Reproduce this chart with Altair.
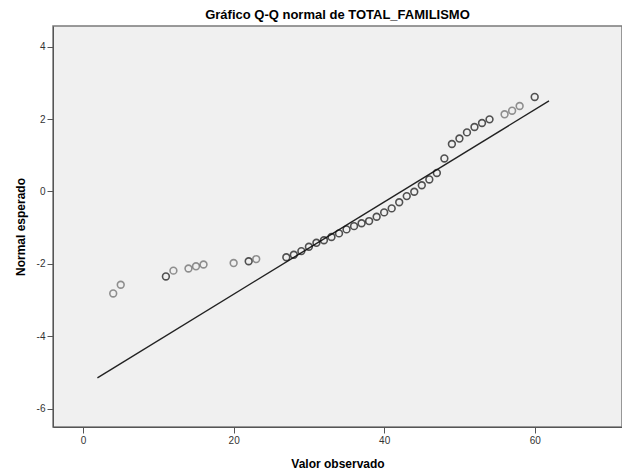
import altair as alt
import pandas as pd

# Observed values (TOTAL_FAMILISMO) and expected normal quantiles
obs = [4, 5, 11, 12, 14, 15, 16, 20, 22, 23, 27, 28, 29, 30, 31, 32, 33, 34, 35,
       36, 37, 38, 39, 40, 41, 42, 43, 44, 45, 46, 47, 48, 49, 50, 51, 52, 53,
       54, 56, 57, 58, 60]
expected = [-2.82, -2.58, -2.35, -2.19, -2.13, -2.07, -2.02, -1.98, -1.93, -1.87,
            -1.82, -1.75, -1.65, -1.53, -1.42, -1.35, -1.26, -1.16, -1.05, -0.96,
            -0.88, -0.82, -0.70, -0.58, -0.47, -0.30, -0.13, -0.01, 0.17, 0.33,
            0.51, 0.91, 1.31, 1.46, 1.63, 1.78, 1.89, 1.99, 2.13, 2.23, 2.36, 2.61]
# darker (overlapping) markers
weight = ["light", "light", "dark", "light", "light", "light", "light", "light",
          "dark", "light", "dark", "dark", "dark", "dark", "dark", "dark", "dark",
          "dark", "dark", "dark", "dark", "dark", "dark", "dark", "dark", "dark",
          "dark", "dark", "dark", "dark", "dark", "dark", "dark", "dark", "dark",
          "dark", "dark", "dark", "light", "light", "light", "dark"]

# reference line end points
line_x = [1.9, 61.9]
line_y = [-5.15, 2.50]

df = pd.DataFrame({"x": obs, "y": expected, "w": weight})
ldf = pd.DataFrame({"x": line_x, "y": line_y})

xs = alt.Scale(domain=[-4, 71.6], nice=False, zero=False)
ys = alt.Scale(domain=[-6.51, 4.57], nice=False, zero=False)

xaxis = alt.Axis(values=[0, 20, 40, 60], title="Valor observado", grid=False,
                 tickSize=6, labelFontSize=10, labelColor="#333333",
                 titleFontSize=12, titleFontWeight="bold", titleColor="#000000",
                 titlePadding=13, domainColor="#555555", tickColor="#555555",
                 labelFont="Liberation Sans", titleFont="Liberation Sans",
                 labelExpr="'' + datum.value")
yaxis = alt.Axis(values=[-6, -4, -2, 0, 2, 4], title="Normal esperado", grid=False,
                 tickSize=6, labelFontSize=10, labelColor="#333333",
                 titleFontSize=12, titleFontWeight="bold", titleColor="#000000",
                 titlePadding=9, domainColor="#555555", tickColor="#555555",
                 labelFont="Liberation Sans", titleFont="Liberation Sans",
                 labelExpr="'' + datum.value")

line = alt.Chart(ldf).mark_line(color="#222222", strokeWidth=1.4).encode(
    x=alt.X("x:Q", scale=xs, axis=xaxis),
    y=alt.Y("y:Q", scale=ys, axis=yaxis),
)

pts = alt.Chart(df).mark_point(shape="circle", filled=False, size=46, strokeWidth=1.6).encode(
    x=alt.X("x:Q", scale=xs),
    y=alt.Y("y:Q", scale=ys),
    color=alt.Color("w:N", scale=alt.Scale(domain=["light", "dark"], range=["#666666", "#0d0d0d"]), legend=None),
)

chart = alt.layer(line, pts).properties(
    width=569, height=401,
    title=alt.TitleParams("Gráfico Q-Q normal de TOTAL_FAMILISMO", fontSize=13,
                          fontWeight="bold", font="Liberation Sans", color="#000000",
                          anchor="middle", offset=4),
    autosize=alt.AutoSizeParams(type="none"),
    padding={"left": 45, "top": 18, "right": 0, "bottom": 48},
    background="white",
).configure_view(fill="#f0f0f0", stroke="#7a7a7a", strokeWidth=1.5)

chart.save("out.html", embed_options={"renderer": "svg", "actions": False})
